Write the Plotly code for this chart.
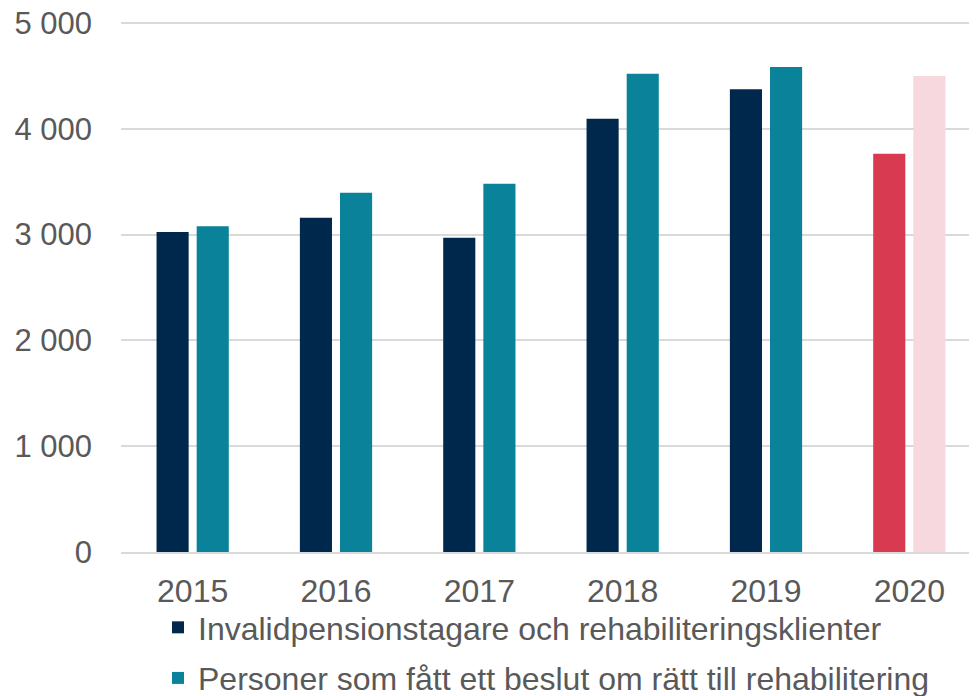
import plotly.graph_objects as go

years = ["2015", "2016", "2017", "2018", "2019", "2020"]
invalid = [3025, 3160, 2970, 4095, 4375, 3765]
beslut = [3080, 3395, 3480, 4520, 4585, 4500]
series_names = ["Invalidpensionstagare och rehabiliteringsklienter",
                "Personer som fått ett beslut om rätt till rehabilitering"]
tick_vals = [0, 1000, 2000, 3000, 4000, 5000]
tick_text = ["0", "1 000", "2 000", "3 000", "4 000", "5 000"]

navy, teal, red, pink = "#00284C", "#0A8299", "#D83A52", "#F6D8DE"
c1 = [navy] * 5 + [red]
c2 = [teal] * 5 + [pink]

fig = go.Figure()
fig.add_trace(go.Bar(x=years, y=invalid, name=series_names[0], legendgroup="a",
                     marker=dict(color=c1, line=dict(width=0))))
fig.add_trace(go.Bar(x=years, y=beslut, name=series_names[1], legendgroup="b",
                     marker=dict(color=c2, line=dict(width=0))))

fam = "Liberation Sans, Arial, sans-serif"
yfont = dict(family=fam, size=31, color="#595959")
xfont = dict(family=fam, size=32, color="#595959")
fig.update_layout(
    width=973, height=688,
    margin=dict(l=113, r=0, t=13, b=144, autoexpand=False),
    paper_bgcolor="white", plot_bgcolor="white",
    barmode="group", bargap=0.44, bargroupgap=0.2,
    font=yfont,
    showlegend=True,
    legend=dict(orientation="v", xref="container", yref="container",
                x=150 / 973, xanchor="left", y=0.1395, yanchor="top",
                font=dict(family=fam, size=32, color="#595959"), tracegroupgap=6,
                itemwidth=30, bgcolor="rgba(0,0,0,0)"),
    xaxis=dict(type="category", showgrid=False, showline=True, linecolor="#D9D9D9",
               linewidth=1.5, ticks="", tickfont=xfont, fixedrange=True,
               automargin=False, ticklabelstandoff=10),
    yaxis=dict(range=[0, 5019], tickvals=tick_vals, ticktext=tick_text,
               showgrid=True, gridcolor="#D9D9D9", gridwidth=1.5, zeroline=False,
               showline=False, ticks="", tickfont=yfont, ticklabelstandoff=28,
               ticklabeloverflow="allow", automargin=False),
)
fig.write_html("out.html")
